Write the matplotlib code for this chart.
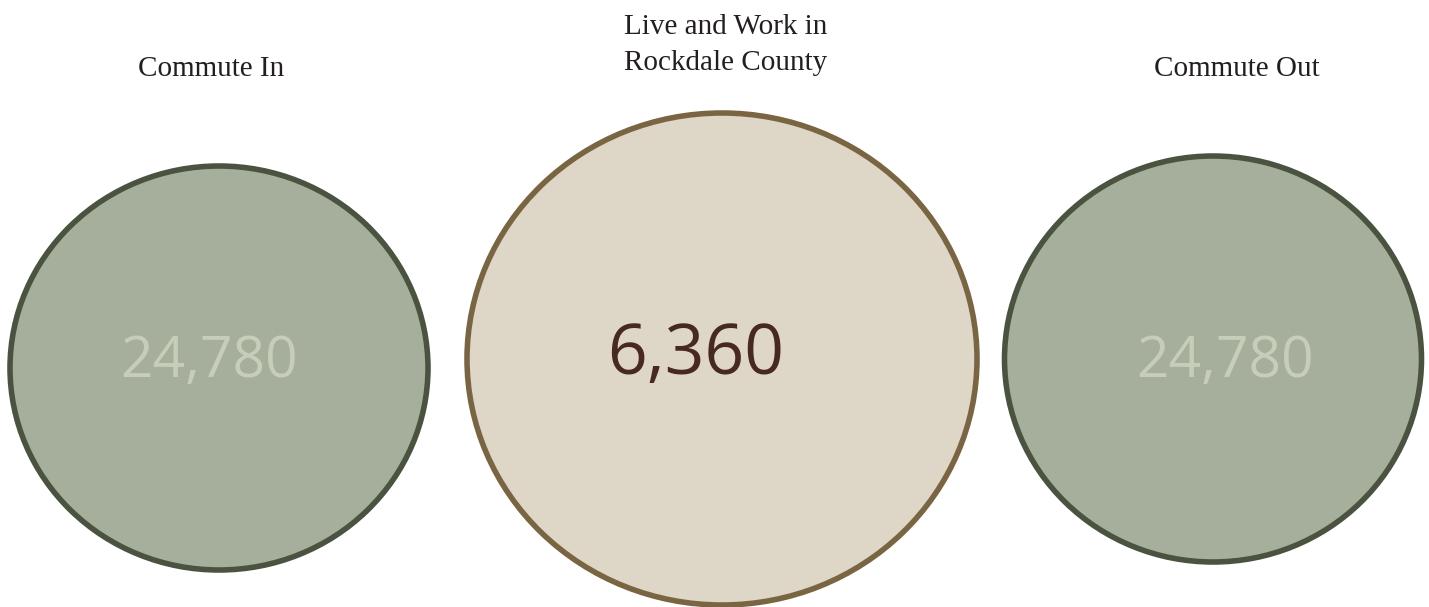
import matplotlib
matplotlib.use('Agg')
import matplotlib.pyplot as plt
from matplotlib.patches import Ellipse

# Commuting flows, Rockdale County
titles = ['Commute In', 'Live and Work in\nRockdale County', 'Commute Out']
values = [24780, 6360, 24780]

# layout in pixel space (figure is 1429 x 607)
centers = [(219, 368), (722, 359), (1213, 359)]
sizes = [(418, 404), (510, 492), (417, 406)]
title_y = [69, 45, 69]
title_x = [211, 726, 1237]
num_pos = [(209, 362), (696, 356), (1225, 362)]

fills = ['#a6af9b', '#ded6c7', '#a6af9b']
edges = ['#4a5340', '#7a6543', '#4a5340']
num_colors = ['#c6ceba', '#47291f', '#c6ceba']
num_sizes = [41, 50, 41]

fig = plt.figure(figsize=(14.29, 6.07), dpi=100)
ax = fig.add_axes([0, 0, 1, 1])
ax.set_xlim(0, 1429)
ax.set_ylim(607, 0)
ax.axis('off')

for i in range(3):
    e = Ellipse(centers[i], sizes[i][0], sizes[i][1], facecolor=fills[i],
                edgecolor=edges[i], linewidth=4)
    ax.add_patch(e)
    ax.text(title_x[i], title_y[i], titles[i], ha='center', va='center',
            fontsize=21, family='Liberation Serif', color='#231f20',
            linespacing=1.52)
    ax.text(num_pos[i][0], num_pos[i][1], f"{values[i]:,}", ha='center',
            va='center', fontsize=num_sizes[i], family='Open Sans',
            color=num_colors[i])

fig.savefig('out.png', dpi=100)
